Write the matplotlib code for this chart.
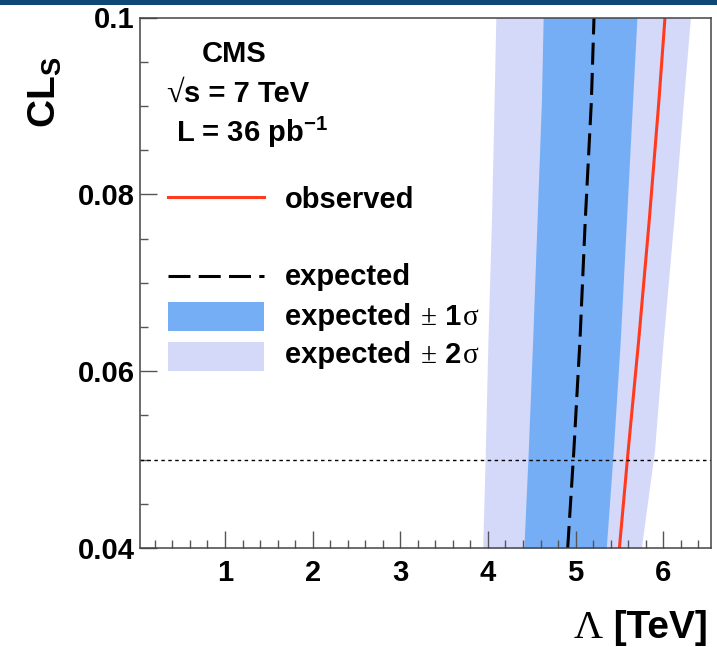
import matplotlib
matplotlib.use("Agg")
import matplotlib.pyplot as plt
from matplotlib.lines import Line2D
from matplotlib.patches import Rectangle
from matplotlib.ticker import MultipleLocator

plt.rcParams["font.family"] = ["Liberation Sans", "DejaVu Sans"]
plt.rcParams["font.weight"] = "bold"
plt.rcParams["mathtext.fontset"] = "custom"
plt.rcParams["mathtext.rm"] = "Liberation Sans:bold"
plt.rcParams["mathtext.it"] = "Liberation Sans:bold"
plt.rcParams["mathtext.bf"] = "Liberation Sans:bold"
plt.rcParams["mathtext.sf"] = "Liberation Sans:bold"

# CLs levels and the Lambda [TeV] value of each curve at that level
cls = [0.040, 0.051, 0.0635, 0.077, 0.0905, 0.100]
expected = [4.91, 4.98, 5.05, 5.11, 5.18, 5.21]
observed = [5.50, 5.60, 5.72, 5.84, 5.95, 6.02]
sig1_lo = [4.41, 4.46, 4.51, 4.56, 4.61, 4.63]
sig1_hi = [5.35, 5.43, 5.51, 5.58, 5.65, 5.70]
sig2_lo = [3.94, 3.97, 4.00, 4.04, 4.07, 4.09]
sig2_hi = [5.75, 5.90, 6.00, 6.12, 6.23, 6.31]
cl_limit = 0.05

c_obs = "#ff3a1e"
c_1s = "#76aef6"
c_2s = "#d4d9fa"
serif = dict(family="Liberation Serif", weight="normal")

W, H = 717, 647
fig = plt.figure(figsize=(W / 100, H / 100), dpi=100)
ax = fig.add_axes([140 / W, 1 - 548 / H, 571 / W, 530.5 / H])

def fx(x):
    return x / W

def fy(y):
    return 1 - y / H

ax.fill_betweenx(cls, sig2_lo, sig2_hi, color=c_2s, lw=0)
ax.fill_betweenx(cls, sig1_lo, sig1_hi, color=c_1s, lw=0)
ax.plot(expected, cls, color="black", lw=2.2, ls=(0, (7.2, 2.7)))
ax.plot(observed, cls, color=c_obs, lw=2.2)
ax.axhline(cl_limit, color="black", lw=1.0, ls=(0, (2.5, 2.5)))

ax.set_xlim(0.03, 6.545)
ax.set_ylim(0.04, 0.1)
ax.xaxis.set_minor_locator(MultipleLocator(0.2))
ax.yaxis.set_minor_locator(MultipleLocator(0.005))
ax.set_xticks([1, 2, 3, 4, 5, 6])
ax.set_xticklabels(["1", "2", "3", "4", "5", "6"])
ax.set_yticks([0.04, 0.06, 0.08, 0.1])
ax.set_yticklabels(["0.04", "0.06", "0.08", "0.1"])
ax.tick_params(which="both", direction="in", top=False, right=False,
               color="#555555", width=1.0)
ax.tick_params(axis="x", which="major", length=12, pad=8, labelsize=21)
ax.tick_params(axis="y", which="major", length=12, pad=4, labelsize=21)
ax.tick_params(which="minor", length=6)
for s in ax.spines.values():
    s.set_color("#444444")
    s.set_linewidth(1.1)

fig.canvas.draw()
rend = fig.canvas.get_renderer()

def chain(x, y, parts, size):
    # parts: list of (text, is_serif); drawn one after another on one baseline
    cur = x
    for txt, is_serif in parts:
        kw = serif if is_serif else {}
        t = fig.text(cur / W, fy(y), txt, ha="left", va="baseline", fontsize=size, **kw)
        cur = t.get_window_extent(rend).x1 + 1

# axis titles
t = fig.text(fx(708), fy(638), " [TeV]", ha="right", va="baseline", fontsize=28)
bb = t.get_window_extent(rend)
fig.text(bb.x0 / W, fy(638), "Λ", ha="right", va="baseline", fontsize=29, **serif)
fig.text(fx(45), fy(57), r"CL$_\mathregular{S}$", rotation=90, ha="center", va="top",
         fontsize=28)

# CMS label
fig.text(fx(202), fy(62), "CMS", ha="left", va="baseline", fontsize=21)
fig.text(fx(166), fy(102), "√", ha="left", va="baseline", fontsize=23, **serif)
fig.text(fx(184), fy(102), "s = 7 TeV", ha="left", va="baseline", fontsize=21)
fig.text(fx(176), fy(142), r"L = 36 pb$^\mathregular{-1}$", ha="left", va="baseline",
         fontsize=21)

# legend drawn by hand
fig.add_artist(Line2D([fx(168), fx(264)], [fy(197), fy(197)], color=c_obs, lw=2.2))
fig.text(fx(285), fy(208), "observed", ha="left", va="baseline", fontsize=21)
fig.add_artist(Line2D([fx(168), fx(264)], [fy(276), fy(276)], color="black", lw=2.2,
                      ls=(0, (7.2, 2.7))))
fig.text(fx(285), fy(285), "expected", ha="left", va="baseline", fontsize=21)
fig.add_artist(Rectangle((fx(168), fy(331)), fx(96), 29 / H, transform=fig.transFigure,
                         color=c_1s, lw=0))
chain(285, 325, [("expected ", False), ("±", True), (" 1", False), ("σ", True)], 21)
fig.add_artist(Rectangle((fx(168), fy(371)), fx(96), 29 / H, transform=fig.transFigure,
                         color=c_2s, lw=0))
chain(285, 363, [("expected ", False), ("±", True), (" 2", False), ("σ", True)], 21)

# dark strip along the top edge
fig.add_artist(Rectangle((0, fy(5)), 1, 5 / H, transform=fig.transFigure,
                         color="#0e4876", lw=0))

fig.savefig("out.png", dpi=100)
